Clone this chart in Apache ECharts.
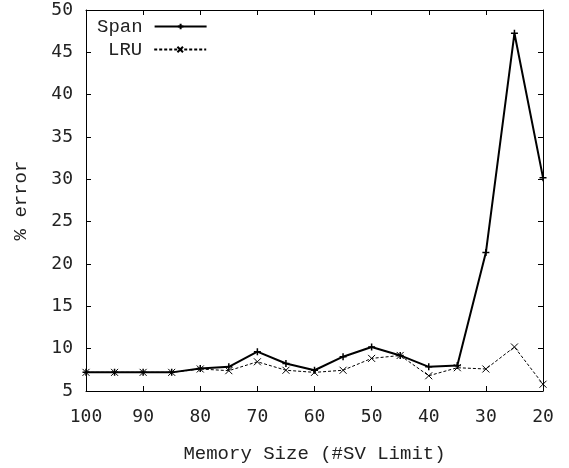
<!DOCTYPE html>
<html><head><meta charset="utf-8">
<script src="https://cdn.jsdelivr.net/npm/echarts@6/dist/echarts.min.js"></script>
<style>html,body{margin:0;padding:0;background:#fff}#c{width:569px;height:468px}</style>
</head><body><div id="c"></div>
<script>
var memSizes = [100, 95, 90, 85, 80, 75, 70, 65, 60, 55, 50, 45, 40, 35, 30, 25, 20];
var spanErr = [7.2, 7.2, 7.2, 7.2, 7.65, 7.85, 9.65, 8.25, 7.45, 9.05, 10.2, 9.2, 7.85, 8.0, 21.35, 47.25, 30.2];
var lruErr = [7.2, 7.2, 7.2, 7.2, 7.6, 7.4, 8.45, 7.45, 7.2, 7.45, 8.85, 9.2, 6.8, 7.75, 7.6, 10.2, 5.8];
var xTicks = [100, 90, 80, 70, 60, 50, 40, 30, 20];
var yTicks = [5, 10, 15, 20, 25, 30, 35, 40, 45, 50];

var mono = '"Liberation Mono", "Courier New", monospace';
var tickFont = '"DejaVu Sans Mono", monospace';
function pairs(ys){ return memSizes.map(function(x,i){ return [x, ys[i]]; }); }
var plusSym = 'path://M0,5L10,5M5,0L5,10';
var xSym = 'path://M0,0L10,10M10,0L0,10';

var chart = echarts.init(document.getElementById('c'), null, {renderer:'canvas'});
var axLine = {show:true, lineStyle:{color:'#000', width:1}};
var tick = {show:true, inside:true, length:5, lineStyle:{color:'#000'}};
chart.setOption({
  animation:false,
  grid:{left:86, top:10, right:26, bottom:74, containLabel:false},
  legend:[
    {data:['Span'], left:97, top:17, padding:0, orient:'vertical', align:'right', itemWidth:52, itemHeight:7,
     textStyle:{fontFamily:mono, fontSize:19, color:'#222', padding:[0,7,0,0]}},
    {data:['LRU'], left:108, top:40, padding:0, orient:'vertical', align:'right', itemWidth:52, itemHeight:7,
     textStyle:{fontFamily:mono, fontSize:19, color:'#222', padding:[0,7,0,0]}}
  ],
  xAxis:[
    {type:'value', inverse:true, min:20, max:100, interval:10, position:'bottom',
     axisLine:axLine, axisTick:tick, splitLine:{show:false},
     axisLabel:{fontFamily:tickFont, fontSize:18, color:'#222', margin:17,
       formatter:function(v){ return xTicks.indexOf(v) >= 0 ? String(v) : ''; }},
     name:'Memory Size (#SV Limit)', nameLocation:'middle', nameGap:53,
     nameTextStyle:{fontFamily:mono, fontSize:19, color:'#222'}},
    {type:'value', inverse:true, min:20, max:100, interval:10, position:'top',
     axisLine:axLine, axisTick:tick, splitLine:{show:false}, axisLabel:{show:false}}
  ],
  yAxis:[
    {type:'value', min:5, max:50, interval:5, position:'left',
     axisLine:axLine, axisTick:tick, splitLine:{show:false},
     axisLabel:{fontFamily:tickFont, fontSize:18, color:'#222', margin:13,
       formatter:function(v){ return yTicks.indexOf(v) >= 0 ? String(v) : ''; }},
     name:'% error', nameLocation:'middle', nameGap:56, nameRotate:90,
     nameTextStyle:{fontFamily:mono, fontSize:19, color:'#222'}},
    {type:'value', min:5, max:50, interval:5, position:'right',
     axisLine:axLine, axisTick:tick, splitLine:{show:false}, axisLabel:{show:false}}
  ],
  series:[
    {name:'Span', type:'line', data:pairs(spanErr), symbol:plusSym, symbolSize:7, showAllSymbol:true,
     lineStyle:{color:'#000', width:2}, itemStyle:{color:'#000', borderColor:'#000', borderWidth:1.5}},
    {name:'LRU', type:'line', data:pairs(lruErr), symbol:xSym, symbolSize:7, showAllSymbol:true,
     lineStyle:{color:'#000', width:1, type:[3,2]}, itemStyle:{color:'#000', borderColor:'#000', borderWidth:1}}
  ]
});
</script></body></html>
